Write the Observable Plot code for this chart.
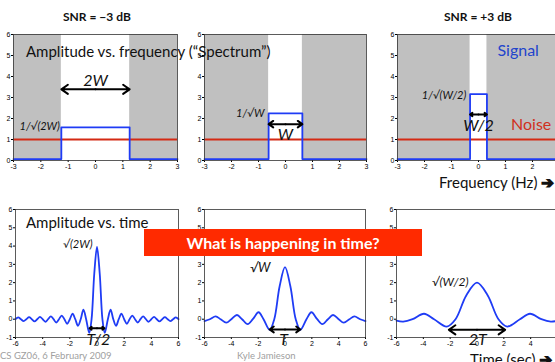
<!DOCTYPE html>
<html><head><meta charset="utf-8">
<script src="https://cdn.jsdelivr.net/npm/d3@7"></script>
<script src="https://cdn.jsdelivr.net/npm/@observablehq/plot@0.6"></script>
<style>
body{margin:0;width:555px;height:362px;overflow:hidden;background:#fff;position:relative;font-family:Lato,"Open Sans",sans-serif;}
.abs{position:absolute;white-space:nowrap;}
.arw{font-family:"DejaVu Sans";font-weight:bold;font-size:15px;-webkit-text-stroke:1.3px #111;}
svg{overflow:visible}
</style></head><body>
<script>
// ---- data ----
const freqTicks = [-3,-2,-1,0,1,2,3];
const freqAmpTicks = [0,1,2,3,4,5,6];
const timeTicks = [-6,-4,-2,0,2,4,6];
const timeAmpTicks = [-1,0,1,2,3,4,5,6];

const halfWidths = [1.25, 0.625, 0.3125];     // band edge ±W
const signalLevels = [1.58, 2.24, 3.16];      // in-band amplitude
const stopbandLevel = 0.07;
const noiseLevel = 1.0;

// time-domain curves (extrema and zero crossings)
const t1 = [-6,-5.8,-5.6,-5.4,-5.2,-5.0,-4.8,-4.6,-4.4,-4.2,-4.0,-3.8,-3.6,-3.4,-3.2,-3.0,-2.8,-2.6,-2.4,-2.2,-2.0,-1.8,-1.6,-1.4,-1.2,-1.0,-0.8,-0.57,-0.4,-0.2,0,0.2,0.4,0.57,0.8,1.0,1.2,1.4,1.6,1.8,2.0,2.2,2.4,2.6,2.8,3.0,3.2,3.4,3.6,3.8,4.0,4.2,4.4,4.6,4.8,5.0,5.2,5.4,5.6,5.8,6];
const v1 = [0,0.10,0,-0.10,0,0.11,0,-0.12,0,0.13,0,-0.14,0,0.16,0,-0.18,0,0.2,0,-0.25,0,0.3,0,-0.36,0,0.52,0,-0.75,0,2.5,3.95,2.5,0,-0.75,0,0.52,0,-0.36,0,0.3,0,-0.25,0,0.2,0,-0.18,0,0.16,0,-0.14,0,0.13,0,-0.12,0,0.11,0,-0.10,0,0.10,0];

const t2 = [-6,-5.6,-5.17,-4.8,-4.38,-4.0,-3.58,-3.2,-2.78,-2.4,-1.97,-1.6,-1.14,-0.8,-0.4,0,0.4,0.8,1.14,1.6,1.97,2.4,2.78,3.2,3.58,4.0,4.38,4.8,5.17,5.6,6];
const v2 = [-0.1,0,0.15,0,-0.19,0,0.23,0,-0.27,0,0.38,0,-0.58,0,1.8,2.85,1.8,0,-0.58,0,0.38,0,-0.27,0,0.23,0,-0.19,0,0.15,0,-0.1];

const t3 = [-6,-5.5,-4.8,-3.95,-3.2,-2.25,-1.6,-0.8,0,0.8,1.6,2.25,3.2,3.95,4.8,5.5,6];
const v3 = [-0.08,-0.13,0,0.3,0,-0.4,0,1.3,2.0,1.3,0,-0.4,0,0.3,0,-0.13,-0.08];

const blue = "#1f3cf5", red = "#d42a14", gray = "#c0c0c0";

function panel({left,right,top,bottom,xDomain,yDomain,xTicks,yTicks,marks}){
  const mL=16,mR=4,mT=4,mB=18;
  const chart = Plot.plot({
    width:right-left+mL+mR, height:bottom-top+mT+mB,
    marginLeft:mL, marginRight:mR, marginTop:mT, marginBottom:mB,
    x:{domain:xDomain, ticks:xTicks, tickSize:2, tickPadding:2, label:null, tickFormat:d=>String(d)},
    y:{domain:yDomain, ticks:yTicks, tickSize:2, tickPadding:1, label:null, tickFormat:d=>String(d)},
    style:{fontSize:"7px", fontFamily:"'Liberation Sans',Arial,sans-serif", background:"transparent", overflow:"visible", color:"#000"},
    marks
  });
  chart.style.position="absolute";
  chart.style.left=(left-mL)+"px";
  chart.style.top=(top-mT)+"px";
  document.body.appendChild(chart);
}

function doubleArrow(a, y){
  const d = [{x1:0,x2:-a,y},{x1:0,x2:a,y}];
  return Plot.arrow(d,{x1:"x1",x2:"x2",y1:"y",y2:"y",stroke:"#000",strokeWidth:2,headLength:6,headAngle:70});
}

const topFrames = [[13,177],[204,366],[397,559]];
const topLabels = [
  {lab:"1/√(2W)", lx:-1.3, ly:1.6, arr:3.39, w:"2W", wy:3.8},
  {lab:"1/√W", lx:-0.78, ly:2.26, arr:1.73, w:"W", wy:1.2},
  {lab:"1/√(W/2)", lx:-0.45, ly:3.11, arr:2.19, w:"W/2", wy:1.64}
];
halfWidths.forEach((W,i)=>{
  const A = signalLevels[i];
  const sig = [[-3,stopbandLevel],[-W,stopbandLevel],[-W,A],[W,A],[W,stopbandLevel],[3,stopbandLevel]];
  const L = topLabels[i];
  const marks = [
    Plot.rect([{x1:-3,x2:-W},{x1:W,x2:3}],{x1:"x1",x2:"x2",y1:0,y2:6,fill:gray}),
    Plot.ruleY([noiseLevel],{stroke:red,strokeWidth:1.8}),
    Plot.line(sig,{x:d=>d[0],y:d=>d[1],stroke:blue,strokeWidth:1.8}),
    doubleArrow(W, L.arr),
    Plot.text([L],{x:"lx",y:"ly",text:"lab",textAnchor:"end",fontSize:11,fontStyle:"italic",fontFamily:"Lato",fill:"#111"}),
    Plot.text([L],{x:()=>0,y:"wy",text:"w",fontSize:16,fontStyle:"italic",fontFamily:"Lato",fill:"#111"}),
    Plot.frame({stroke:"#333",strokeWidth:0.8})
  ];
  if(i===2){
    marks.push(Plot.text(["Signal"],{x:()=>1.47,y:()=>5.24,text:d=>d,fontSize:16,fontFamily:"Lato",fill:"#2244cc"}));
    marks.push(Plot.text(["Noise"],{x:()=>1.95,y:()=>1.69,text:d=>d,fontSize:16,fontFamily:"Lato",fill:"#d03020"}));
  }
  panel({left:topFrames[i][0],right:topFrames[i][1],top:34,bottom:160,xDomain:[-3,3],yDomain:[0,6],xTicks:freqTicks,yTicks:freqAmpTicks,marks});
});

const botFrames = [[15,178],[204,365],[396,557]];
const series = [[t1,v1],[t2,v2],[t3,v3]];
const botLabels = [
  {lab:"√(2W)", lx:-0.33, ly:4.07, fs:11, a:0.55, ay:-0.5, w:"T/2", wx:0.1},
  {lab:"√W", lx:-1.08, ly:2.81, fs:13, a:1.15, ay:-0.56, w:"T", wx:-0.1},
  {lab:"√(W/2)", lx:-0.63, ly:2.02, fs:12, a:2.1, ay:-0.58, w:"2T", wx:0.06}
];
series.forEach(([t,v],i)=>{
  const L = botLabels[i];
  const pts = t.map((x,j)=>({x, y:v[j]}));
  const marks = [
    Plot.line(pts,{x:"x",y:"y",stroke:blue,strokeWidth:1.8,curve:"catmull-rom"}),
    doubleArrow(L.a, L.ay),
    Plot.text([L],{x:"lx",y:"ly",text:"lab",textAnchor:"end",fontSize:L.fs,fontStyle:"italic",fontFamily:"Lato",fill:"#111"}),
    Plot.text([L],{x:"wx",y:()=>-1.15,text:"w",fontSize:16,fontStyle:"italic",fontFamily:"Lato",fill:"#111"}),
    Plot.frame({stroke:"#333",strokeWidth:0.8})
  ];
  panel({left:botFrames[i][0],right:botFrames[i][1],top:209,bottom:337,xDomain:[-6,6],yDomain:[-1,6],xTicks:timeTicks,yTicks:timeAmpTicks,marks});
});

function label(html, style){
  const d=document.createElement("div");
  d.className="abs"; d.innerHTML=html;
  Object.assign(d.style, style);
  document.body.appendChild(d);
  return d;
}
label("SNR = −3 dB",{left:"63px",top:"10px",fontSize:"12px",lineHeight:"14px",fontWeight:"bold",color:"#111"});
label("SNR = +3 dB",{left:"444px",top:"10px",fontSize:"12px",lineHeight:"14px",fontWeight:"bold",color:"#111"});
label("Amplitude vs. frequency (“Spectrum”)",{left:"26px",top:"42px",fontSize:"15px",lineHeight:"18px",color:"#111",zIndex:5});
label("Frequency (Hz) <span class='arw'>➔</span>",{left:"439px",top:"173px",fontSize:"15px",lineHeight:"18px",color:"#111"});
label("Amplitude vs. time",{left:"26px",top:"213px",fontSize:"15px",lineHeight:"18px",color:"#111",zIndex:5});
label("What is happening in time?",{left:"144px",top:"229px",width:"278px",height:"27px",background:"#ff2a00",color:"#fff",fontWeight:"bold",fontSize:"16px",lineHeight:"27px",textAlign:"center",zIndex:6});
label("Time (sec) <span class='arw'>➔</span>",{left:"470px",top:"350px",fontSize:"15px",lineHeight:"18px",color:"#111"});
label("CS GZ06, 6 February 2009",{left:"0px",top:"349px",fontSize:"9.5px",lineHeight:"14px",color:"#a0a0a0"});
label("Kyle Jamieson",{left:"237px",top:"349px",fontSize:"9.5px",lineHeight:"14px",color:"#a0a0a0"});
</script>
</body></html>
